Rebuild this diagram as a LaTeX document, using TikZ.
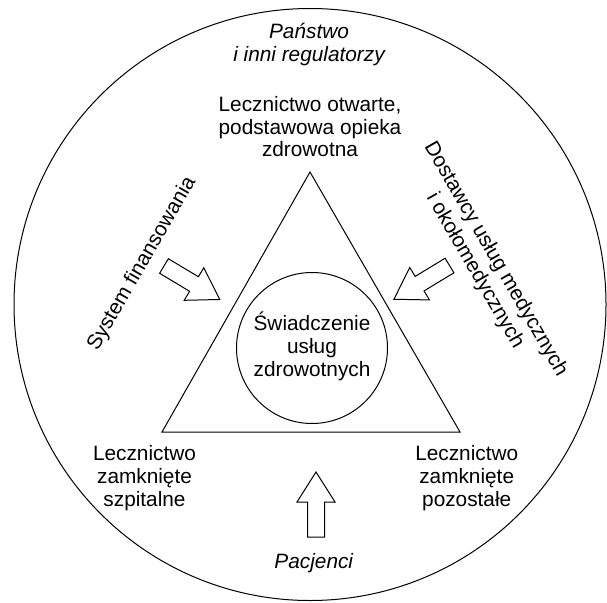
\documentclass[tikz,border=0pt]{standalone}
\usepackage{fontspec}
\setmainfont{Liberation Sans}
\begin{document}
\begin{tikzpicture}[x=1pt,y=-1pt,
  lbl/.style={font=\fontsize{20.8}{23}\selectfont, align=center, inner sep=0pt, anchor=base},
  ilbl/.style={lbl, font=\fontsize{20.8}{23.4}\itshape\selectfont},
  shapeline/.style={draw=black, line width=1pt},
  blockarrow/.pic={\draw[shapeline, fill=white] (0,-8.5) -- (35,-8.5) -- (35,-19) -- (65,0) -- (35,19) -- (35,8.5) -- (0,8.5) -- cycle;}
]
\useasboundingbox (0,0) rectangle (607,602);
% outer circle
\node[shapeline, circle, minimum size=592pt, inner sep=0pt] (outer) at (310,304.5) {};
% triangle
\coordinate (apex) at (310,172);
\coordinate (bl) at (162,432);
\coordinate (br) at (460,432);
\draw[shapeline, line width=1pt] (apex) -- (bl) -- (br) -- cycle;
% inner circle
\node[shapeline, circle, minimum size=151pt, inner sep=0pt] (core) at (312,348) {};
% multi-line labels: anchor=base is the baseline of the last line
\node[lbl, font=\fontsize{20.8}{22.7}\selectfont] (coretext) at (312,376) {Świadczenie\\usług\\zdrowotnych};
\node[ilbl] (state) at (309,61.7) {Państwo\\i inni regulatorzy};
\node[lbl, font=\fontsize{20.8}{22.5}\selectfont] (open) at (310,156.7) {Lecznictwo otwarte,\\podstawowa opieka\\zdrowotna};
\node[lbl] (hosp) at (144.5,506) {Lecznictwo\\zamknięte\\szpitalne};
\node[lbl] (other) at (466.7,506) {Lecznictwo\\zamknięte\\pozostałe};
\node[ilbl] (pat) at (313.8,568.3) {Pacjenci};
\node[lbl, rotate=60] (fin) at (146.7,266.7) {System finansowania};
\node[lbl, rotate=-60, font=\fontsize{20.8}{24}\selectfont] (dost) at (470.2,273.8) {Dostawcy usług medycznych\\i okołomedycznych};
% block arrows
\pic[rotate=-31] (finarrow) at (164,266) {blockarrow};
\pic[rotate=211.3] (dostarrow) at (449.5,265.5) {blockarrow};
\pic[rotate=90] (patarrow) at (316,537) {blockarrow};
\end{tikzpicture}
\end{document}
